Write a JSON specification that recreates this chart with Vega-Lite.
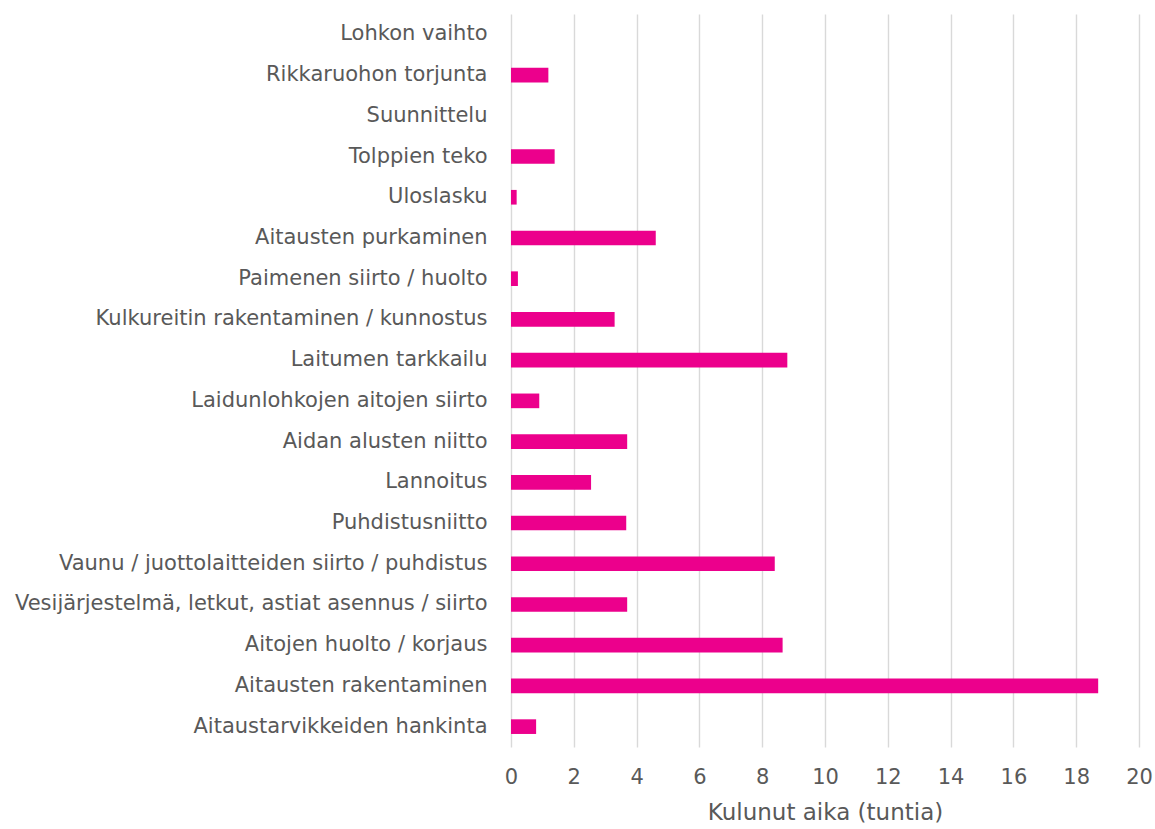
{
  "$schema": "https://vega.github.io/schema/vega-lite/v6.json",
  "autosize": "none",
  "width": 628,
  "height": 733,
  "padding": {"left": 511, "top": 14, "right": 16, "bottom": 82},
  "background": "white",
  "data": {"values": [
    {"tehtava": "Lohkon vaihto", "tunnit": 0},
    {"tehtava": "Rikkaruohon torjunta", "tunnit": 1.19},
    {"tehtava": "Suunnittelu", "tunnit": 0},
    {"tehtava": "Tolppien teko", "tunnit": 1.39},
    {"tehtava": "Uloslasku", "tunnit": 0.18},
    {"tehtava": "Aitausten purkaminen", "tunnit": 4.61},
    {"tehtava": "Paimenen siirto / huolto", "tunnit": 0.22},
    {"tehtava": "Kulkureitin rakentaminen / kunnostus", "tunnit": 3.3},
    {"tehtava": "Laitumen tarkkailu", "tunnit": 8.8},
    {"tehtava": "Laidunlohkojen aitojen siirto", "tunnit": 0.9},
    {"tehtava": "Aidan alusten niitto", "tunnit": 3.7},
    {"tehtava": "Lannoitus", "tunnit": 2.55},
    {"tehtava": "Puhdistusniitto", "tunnit": 3.67},
    {"tehtava": "Vaunu / juottolaitteiden siirto / puhdistus", "tunnit": 8.4},
    {"tehtava": "Vesijärjestelmä, letkut, astiat asennus / siirto", "tunnit": 3.7},
    {"tehtava": "Aitojen huolto / korjaus", "tunnit": 8.65},
    {"tehtava": "Aitausten rakentaminen", "tunnit": 18.7},
    {"tehtava": "Aitaustarvikkeiden hankinta", "tunnit": 0.8}
  ]},
  "config": {
    "view": {"stroke": null},
    "font": "DejaVu Sans"
  },
  "mark": {"type": "bar", "color": "#EC008C"},
  "encoding": {
    "y": {
      "field": "tehtava",
      "type": "nominal",
      "sort": null,
      "scale": {"paddingInner": 0.64, "paddingOuter": 0.32},
      "axis": {
        "title": null,
        "domain": false,
        "ticks": false,
        "labelPadding": 24,
        "labelFont": "DejaVu Sans",
        "labelFontSize": 21,
        "labelColor": "#595959",
        "labelLimit": 600
      }
    },
    "x": {
      "field": "tunnit",
      "type": "quantitative",
      "scale": {"domain": [0, 20], "nice": false},
      "axis": {
        "title": "Kulunut aika (tuntia)",
        "values": [0, 2, 4, 6, 8, 10, 12, 14, 16, 18, 20],
        "domain": false,
        "ticks": false,
        "grid": true,
        "gridColor": "#d9d9d9",
        "gridWidth": 1.4,
        "labelFlush": false,
        "labelPadding": 19,
        "labelFont": "DejaVu Sans",
        "labelFontSize": 21,
        "labelColor": "#595959",
        "titleFont": "DejaVu Sans",
        "titleFontSize": 23,
        "titleFontWeight": "normal",
        "titleColor": "#595959",
        "titlePadding": 14
      }
    }
  }
}
